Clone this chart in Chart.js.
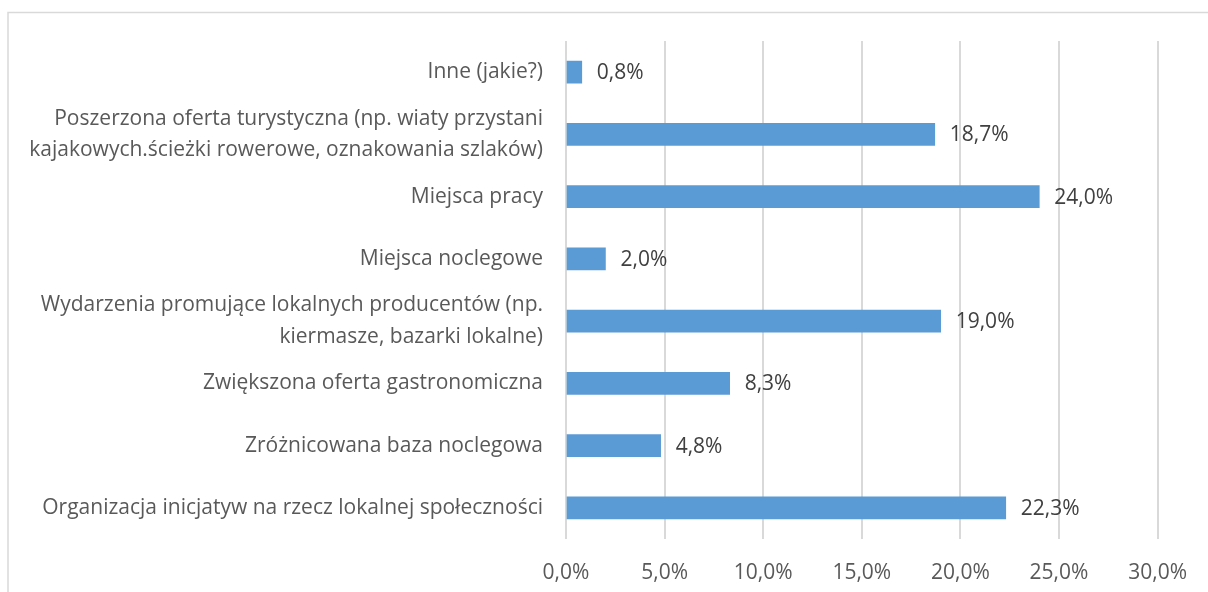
<!DOCTYPE html>
<html lang="pl">
<head>
<meta charset="utf-8">
<script src="https://cdn.jsdelivr.net/npm/chart.js@4/dist/chart.umd.min.js"></script>
<style>
  html, body { margin: 0; padding: 0; background: #fff; overflow: hidden; }
  #wrap { position: relative; width: 1208px; height: 592px; }
</style>
</head>
<body>
<div id="wrap"><canvas id="chart"></canvas></div>
<script>
// Kategorie od góry do dołu, wartości w %
const categories = [
    ['Inne (jakie?)'],
    ['Poszerzona oferta turystyczna (np. wiaty przystani', 'kajakowych.ścieżki rowerowe, oznakowania szlaków)'],
    ['Miejsca pracy'],
    ['Miejsca noclegowe'],
    ['Wydarzenia promujące lokalnych producentów (np.', 'kiermasze, bazarki lokalne)'],
    ['Zwiększona oferta gastronomiczna'],
    ['Zróżnicowana baza noclegowa'],
    ['Organizacja inicjatyw na rzecz lokalnej społeczności'],
];
const values = [0.8, 18.7, 24.0, 2.0, 19.0, 8.3, 4.8, 22.3];
const xTicks = [0, 5, 10, 15, 20, 25, 30];

const FONT = "'Open Sans', sans-serif";
const SIZE = 21;
const fmt = (v) => v.toFixed(1).replace('.', ',') + '%';

// ramka wykresu (jak w Excelu: lewa i górna krawędź widoczne)
const frame = {
    id: 'frame',
    beforeDraw(chart) {
        const { ctx } = chart;
        ctx.save();
        ctx.strokeStyle = '#d9d9d9';
        ctx.lineWidth = 1.5;
        ctx.strokeRect(8, 12.5, 1400, 800);
        ctx.restore();
    },
};

// etykiety wartości za słupkami
const valueLabels = {
    id: 'valueLabels',
    afterDatasetsDraw(chart) {
        const { ctx } = chart;
        const meta = chart.getDatasetMeta(0);
        ctx.save();
        ctx.font = `${SIZE}px ${FONT}`;
        ctx.fillStyle = '#404040';
        ctx.textAlign = 'left';
        ctx.textBaseline = 'middle';
        meta.data.forEach((bar, i) => {
            ctx.fillText(fmt(values[i]), bar.x + 15, bar.y + 1);
        });
        ctx.restore();
    },
};

new Chart(document.getElementById('chart'), {
    type: 'bar',
    data: {
        labels: categories,
        datasets: [{
            data: values,
            backgroundColor: '#5b9bd5',
            borderWidth: 0,
            barThickness: 22,
        }],
    },
    options: {
        indexAxis: 'y',
        responsive: true,
        maintainAspectRatio: false,
        animation: false,
        layout: { padding: { top: 41, right: 49, bottom: 0, left: 0 } },
        plugins: {
            legend: { display: false },
            tooltip: { enabled: false },
        },
        scales: {
            x: {
                min: 0,
                max: 30,
                afterBuildTicks: (axis) => { axis.ticks = xTicks.map((v) => ({ value: v })); },
                afterFit: (axis) => { axis.height = 53; },
                grid: { color: '#d9d9d9', lineWidth: 2, drawTicks: false },
                border: { display: false },
                ticks: {
                    color: '#595959',
                    font: { family: FONT, size: SIZE },
                    padding: 21,
                    maxRotation: 0,
                    callback: (v) => fmt(v),
                },
            },
            y: {
                grid: { display: false, drawTicks: false },
                border: { display: false },
                afterFit: (axis) => { axis.width = 566; },
                ticks: {
                    autoSkip: false,
                    color: '#595959',
                    font: { family: FONT, size: SIZE, lineHeight: 1.5 },
                    padding: 23,
                },
            },
        },
    },
    plugins: [frame, valueLabels],
});
</script>
</body>
</html>
